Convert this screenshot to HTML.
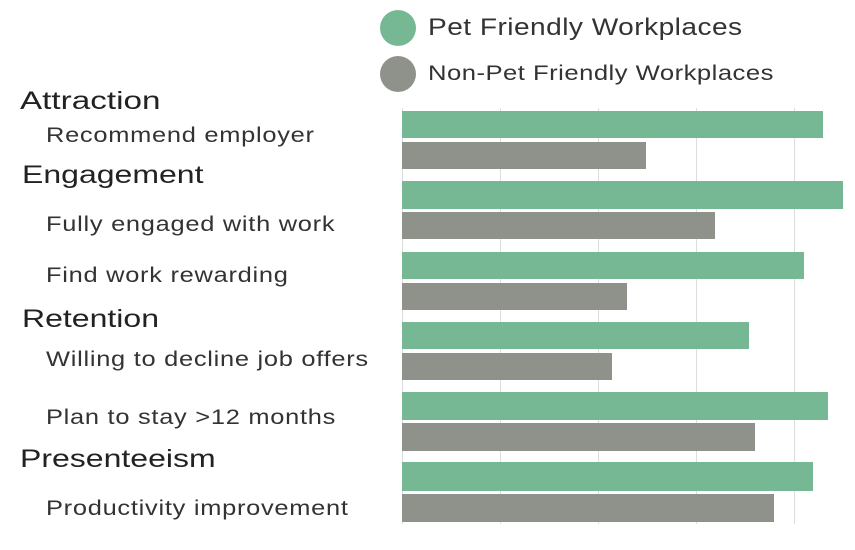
<!DOCTYPE html>
<html><head><meta charset="utf-8"><style>
html,body{margin:0;padding:0;background:#fff;}
body{width:855px;height:550px;position:relative;overflow:hidden;font-family:"Liberation Sans",sans-serif;color:#222;}
.t{position:absolute;white-space:nowrap;transform-origin:0 50%;}
.h{font-size:25px;transform:scaleX(1.28);}
.s{font-size:21px;letter-spacing:0.6px;color:#333;transform:scaleX(1.21);}
.g{position:absolute;top:108px;height:416px;width:1px;background:#ddd;}
.b{position:absolute;left:402px;height:27px;}
.gr{background:#76b893;}
.gy{background:#8e928b;}
</style></head><body>
<div style="position:absolute;left:380px;top:10px;width:36px;height:36px;border-radius:50%;background:#76b893"></div>
<div class="t" style="left:428px;top:14px;font-size:24px;color:#333;letter-spacing:0.4px;transform:scaleX(1.17)">Pet Friendly Workplaces</div>
<div style="position:absolute;left:380px;top:56px;width:36px;height:36px;border-radius:50%;background:#8e928b"></div>
<div class="t" style="left:428px;top:62px;font-size:21px;color:#333;letter-spacing:0.4px;transform:scaleX(1.22)">Non-Pet Friendly Workplaces</div>

<div class="t h" style="left:20px;top:87px;transform:scaleX(1.33)">Attraction</div>
<div class="t s" style="left:46px;top:124px">Recommend employer</div>
<div class="t h" style="left:22px;top:161px">Engagement</div>
<div class="t s" style="left:46px;top:213px">Fully engaged with work</div>
<div class="t s" style="left:46px;top:264px">Find work rewarding</div>
<div class="t h" style="left:22px;top:305px">Retention</div>
<div class="t s" style="left:46px;top:348px">Willing to decline job offers</div>
<div class="t s" style="left:46px;top:406px">Plan to stay &gt;12 months</div>
<div class="t h" style="left:20px;top:445px">Presenteeism</div>
<div class="t s" style="left:46px;top:497px">Productivity improvement</div>

<div class="g" style="left:402px"></div>
<div class="g" style="left:500px"></div>
<div class="g" style="left:598px"></div>
<div class="g" style="left:696px"></div>
<div class="g" style="left:794px"></div>

<div class="b gr" style="top:111px;width:421px"></div>
<div class="b gy" style="top:142px;width:244px"></div>
<div class="b gr" style="top:181px;width:441px;height:28px"></div>
<div class="b gy" style="top:212px;width:313px"></div>
<div class="b gr" style="top:252px;width:402px"></div>
<div class="b gy" style="top:283px;width:225px"></div>
<div class="b gr" style="top:322px;width:347px"></div>
<div class="b gy" style="top:353px;width:210px"></div>
<div class="b gr" style="top:392px;width:426px;height:28px"></div>
<div class="b gy" style="top:423px;width:353px;height:28px"></div>
<div class="b gr" style="top:462px;width:411px;height:29px"></div>
<div class="b gy" style="top:494px;width:372px;height:28px"></div>
</body></html>
